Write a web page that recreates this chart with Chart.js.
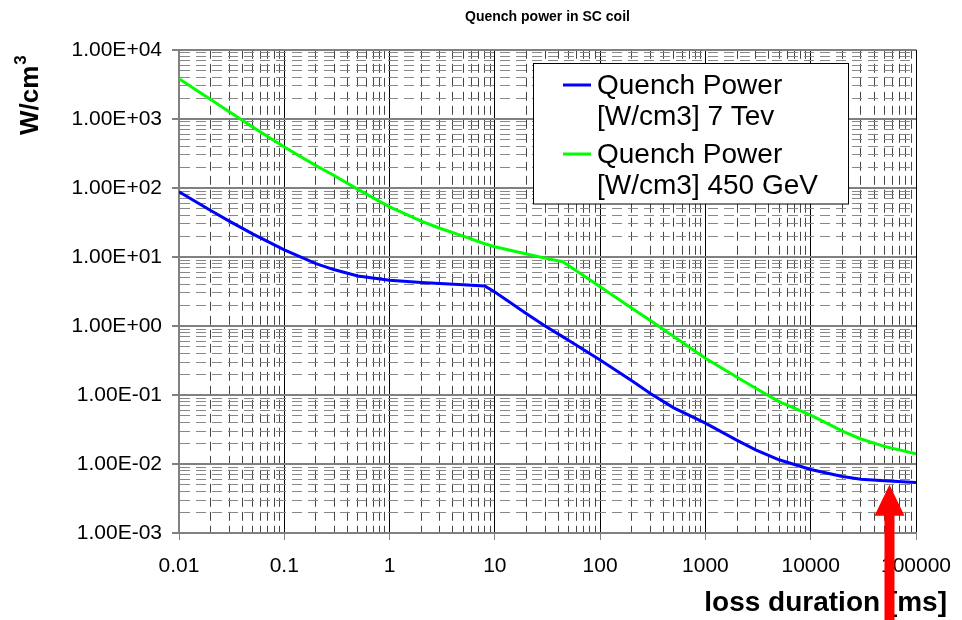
<!DOCTYPE html>
<html>
<head>
<meta charset="utf-8">
<script src="https://cdn.jsdelivr.net/npm/chart.js@4.4.1/dist/chart.umd.min.js"></script>
<style>
  html, body { margin: 0; padding: 0; background: #fff; }
</style>
</head>
<body>
<canvas id="quench" width="962" height="620"></canvas>
<script>
// loss duration [ms]
const durations = [0.01, 0.02, 0.03, 0.05, 0.1, 0.2, 0.3, 0.5, 1, 2, 3, 5, 8, 10, 20, 30, 44, 50,
  100, 200, 300, 500, 1000, 2000, 3000, 5000, 10000, 20000, 30000, 50000, 100000];
// quench power [W/cm3]
const power7TeV = [88, 47, 33, 21.5, 12.6, 8.0, 6.5, 5.3, 4.6, 4.25, 4.1, 3.95, 3.8, 3.1, 1.5, 1.0, 0.70, 0.62,
  0.32, 0.16, 0.105, 0.065, 0.039, 0.022, 0.016, 0.0115, 0.0083, 0.0066, 0.006, 0.0057, 0.0054];
const power450GeV = [3800, 1900, 1270, 760, 390, 210, 150, 95, 53, 33, 26, 20, 15.5, 14, 11, 9.6, 8.5, 7.5,
  3.7, 1.8, 1.2, 0.7, 0.34, 0.18, 0.125, 0.08, 0.051, 0.03, 0.023, 0.018, 0.014];
const legendLines = [
  ['Quench Power', '[W/cm3] 7 Tev'],
  ['Quench Power', '[W/cm3] 450 GeV'],
];
const seriesColors = ['#0000ff', '#00ff00'];
// red arrow marker (data coords)
const arrowAt = { x: 56000, y: 0.005 };

Chart.defaults.font.family = "'Liberation Sans', Arial, sans-serif";
Chart.defaults.color = '#000';

const isDecade = (v) => {
  const l = Math.log10(v);
  return Math.abs(l - Math.round(l)) < 1e-6;
};

const logTicks = (minExp, maxExp) => {
  const ticks = [];
  for (let e = minExp; e < maxExp; e++) {
    for (let m = 1; m < 10; m++) {
      ticks.push({ value: Number((m * Math.pow(10, e)).toPrecision(3)), major: m === 1 });
    }
  }
  ticks.push({ value: Math.pow(10, maxExp), major: true });
  return ticks;
};

const sciLabel = (v) => {
  const e = Math.round(Math.log10(v));
  const sign = e < 0 ? '-' : '+';
  return (v / Math.pow(10, e)).toFixed(2) + 'E' + sign + String(Math.abs(e)).padStart(2, '0');
};

const toPoints = (ys) => durations.map((x, i) => ({ x, y: ys[i] }));

const extras = {
  id: 'extras',
  afterDraw(chart) {
    const { ctx, scales } = chart;
    ctx.save();

    // y axis title
    ctx.fillStyle = '#000';
    ctx.translate(38, 135);
    ctx.rotate(-Math.PI / 2);
    ctx.font = "bold 26px 'Liberation Sans', Arial, sans-serif";
    ctx.textAlign = 'left';
    ctx.textBaseline = 'alphabetic';
    ctx.fillText('W/cm', 0, 0);
    const w = ctx.measureText('W/cm').width;
    ctx.font = "bold 17px 'Liberation Sans', Arial, sans-serif";
    ctx.fillText('3', w + 1, -12);
    ctx.setTransform(1, 0, 0, 1, 0, 0);

    // x axis title
    ctx.font = "bold 28px 'Liberation Sans', Arial, sans-serif";
    ctx.textAlign = 'right';
    ctx.fillText('loss duration [ms]', 947, 611);

    // legend
    ctx.fillStyle = '#fff';
    ctx.strokeStyle = '#000';
    ctx.lineWidth = 1;
    ctx.fillRect(533.5, 63.5, 315, 140.5);
    ctx.strokeRect(533.5, 63.5, 315, 140.5);
    ctx.font = "28px 'Liberation Sans', Arial, sans-serif";
    ctx.textAlign = 'left';
    ctx.textBaseline = 'middle';
    legendLines.forEach((lines, i) => {
      const top = 85 + i * 69;
      ctx.strokeStyle = chart.data.datasets[i].borderColor;
      ctx.lineWidth = 3;
      ctx.beginPath();
      ctx.moveTo(563, top);
      ctx.lineTo(591, top);
      ctx.stroke();
      ctx.fillStyle = '#000';
      lines.forEach((t, j) => ctx.fillText(t, 597, top + 1 + j * 31));
    });

    // red arrow
    const ax = scales.x.getPixelForValue(arrowAt.x);
    const tip = scales.y.getPixelForValue(arrowAt.y);
    ctx.fillStyle = '#ff0000';
    ctx.beginPath();
    ctx.moveTo(ax, tip);
    ctx.lineTo(ax + 15, tip + 31);
    ctx.lineTo(ax + 5, tip + 31);
    ctx.lineTo(ax + 5, chart.height);
    ctx.lineTo(ax - 5, chart.height);
    ctx.lineTo(ax - 5, tip + 31);
    ctx.lineTo(ax - 15, tip + 31);
    ctx.closePath();
    ctx.fill();
    ctx.restore();
  },
};

new Chart(document.getElementById('quench'), {
  type: 'line',
  data: {
    datasets: [
      {
        label: legendLines[0].join(' '),
        data: toPoints(power7TeV),
        borderColor: seriesColors[0],
        borderWidth: 3,
        pointRadius: 0,
        tension: 0,
      },
      {
        label: legendLines[1].join(' '),
        data: toPoints(power450GeV),
        borderColor: seriesColors[1],
        borderWidth: 3,
        pointRadius: 0,
        tension: 0,
      },
    ],
  },
  options: {
    responsive: false,
    animation: false,
    devicePixelRatio: 1,
    layout: { padding: { left: 0, right: 46, top: 0, bottom: 0 } },
    plugins: {
      legend: { display: false },
      tooltip: { enabled: false },
      title: {
        display: true,
        text: 'Quench power in SC coil',
        fullSize: false,
        color: '#000',
        font: { size: 14, weight: 'bold' },
        padding: { top: 9, bottom: 24 },
      },
    },
    scales: {
      x: {
        type: 'logarithmic',
        min: 0.01,
        max: 100000,
        afterBuildTicks: (s) => { s.ticks = logTicks(-2, 5); },
        afterFit: (s) => {
          s.height = 87;
          s.paddingLeft = 0;
          s.paddingRight = 0;
        },
        ticks: {
          autoSkip: false,
          maxRotation: 0,
          padding: 14,
          color: '#000',
          font: { size: 21 },
          callback: (v) => (isDecade(v) ? String(Number(Number(v).toPrecision(1))) : ''),
        },
        grid: {
          color: (c) => (c.tick && isDecade(c.tick.value) ? '#000' : '#444'),
          lineWidth: 1,
          tickLength: 7,
          tickColor: (c) => (c.tick && isDecade(c.tick.value) ? '#808080' : 'rgba(0,0,0,0)'),
        },
        border: {
          display: true,
          color: '#808080',
          width: 2,
          dash: (c) => (c.tick && !isDecade(c.tick.value) ? [9, 5] : []),
        },
      },
      y: {
        type: 'logarithmic',
        min: 0.001,
        max: 10000,
        afterBuildTicks: (s) => { s.ticks = logTicks(-3, 4); },
        afterFit: (s) => { s.width = 179; },
        ticks: {
          autoSkip: false,
          padding: 10,
          color: '#000',
          font: { size: 21 },
          callback: (v) => (isDecade(v) ? sciLabel(v) : ''),
        },
        grid: {
          color: (c) => (c.tick && isDecade(c.tick.value) ? '#808080' : '#888'),
          lineWidth: (c) => (c.tick && isDecade(c.tick.value) ? 2 : 1),
          tickLength: 7,
          tickColor: (c) => (c.tick && isDecade(c.tick.value) ? '#808080' : 'rgba(0,0,0,0)'),
        },
        border: {
          display: true,
          color: '#808080',
          width: 2,
          dash: (c) => (c.tick && !isDecade(c.tick.value) ? [10, 6] : []),
        },
      },
    },
  },
  plugins: [extras],
});
</script>
</body>
</html>
